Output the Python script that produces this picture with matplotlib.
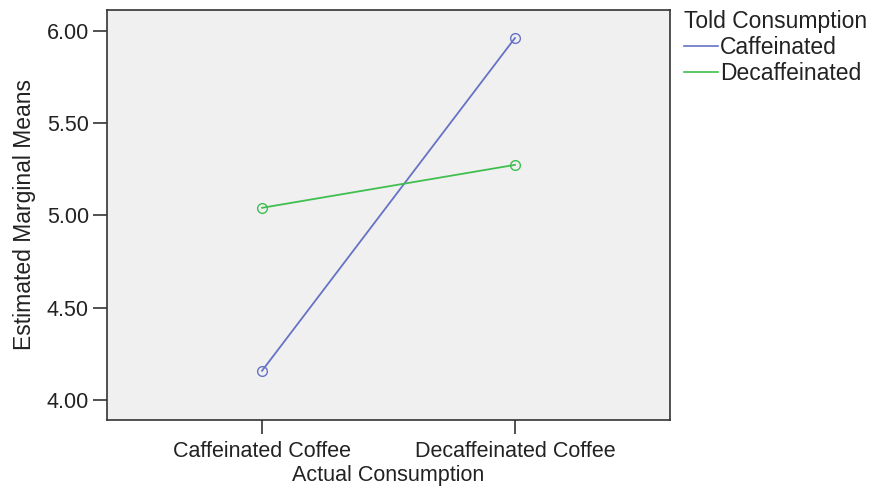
import matplotlib
matplotlib.use("Agg")
import matplotlib.pyplot as plt

plt.rcParams["font.family"] = ["Liberation Sans", "DejaVu Sans"]

actual = ["Caffeinated Coffee", "Decaffeinated Coffee"]
told = ["Caffeinated", "Decaffeinated"]
means = {
    "Caffeinated": [4.157, 5.962],
    "Decaffeinated": [5.041, 5.274],
}
colors = {"Caffeinated": "#6673c4", "Decaffeinated": "#3fbf4f"}
yticks = [4.00, 4.50, 5.00, 5.50, 6.00]

fig = plt.figure(figsize=(8.72, 4.91), dpi=100)
ax = fig.add_axes([107 / 872, 71 / 491, 563 / 872, 410 / 491])
ax.set_facecolor("#f0f0f0")

x = list(range(len(actual)))
for name in told:
    ax.plot(x, means[name], color=colors[name], linewidth=1.3,
            marker="o", markersize=7, markerfacecolor="none",
            markeredgecolor=colors[name], markeredgewidth=1.0, label=name)

ax.set_xlim(-0.613, 1.613)
ax.set_ylim(3.89, 6.114)
ax.set_xticks(x)
ax.set_xticklabels(actual)
ax.set_yticks(yticks)
ax.set_yticklabels([f"{v:.2f}" for v in yticks])
ax.tick_params(axis="both", labelsize=15.5, length=10, width=1.2,
               color="#333333", labelcolor="#222222")
ax.tick_params(axis="y", pad=3)
ax.tick_params(axis="x", pad=5)
for spine in ax.spines.values():
    spine.set_color("#333333")
    spine.set_linewidth(1.2)

ax.set_xlabel("Actual Consumption", fontsize=15.5, color="#222222", labelpad=2)
ax.set_ylabel("Estimated Marginal Means", fontsize=16.5,
              color="#222222", labelpad=8)

leg = ax.legend(title="Told Consumption", loc="upper left",
                bbox_to_anchor=(1.008, 1.023), frameon=False, fontsize=16.5,
                title_fontsize=16.5, handlelength=1.5, handletextpad=0.08,
                borderaxespad=0, labelspacing=0.13, alignment="left")
for text in leg.get_texts():
    text.set_color("#222222")
leg.get_title().set_color("#222222")
for line in leg.get_lines():
    line.set_marker("")
    line.set_linewidth(1.2)

fig.savefig("out.png", dpi=100)
